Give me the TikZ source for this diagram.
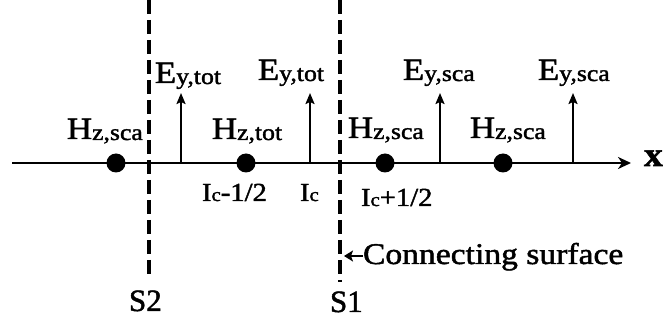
\documentclass[tikz,border=0pt]{standalone}
\usepackage{fontspec}
\usepackage{graphicx}
\setmainfont{Liberation Serif}[FakeBold=1.5]
\usetikzlibrary{arrows.meta}

% field label: large letter followed by a smaller component/type tag
\newcommand{\fieldlbl}[2]{\scalebox{1.12}[1]{\fontsize{31}{31}\selectfont #1\fontsize{23}{23}\selectfont\raisebox{-1pt}{#2}}}
% grid index label: I with a small c, then an offset
\newcommand{\idxlbl}[1]{\scalebox{1.1}[1]{\fontsize{26}{26}\selectfont I{\fontsize{19}{19}\selectfont c}#1}}

\tikzset{
  axisline/.style={line width=2.6pt, -{Stealth[length=13pt,width=12pt,inset=4pt]}},
  surface/.style={line width=3.8pt, dash pattern=on 14pt off 6pt},
  hdot/.style={circle, fill=black, inner sep=0pt, minimum size=19pt},
  efield/.style={line width=2pt, -{Stealth[length=11pt,width=9pt,inset=2pt]}},
  lbl/.style={anchor=base west, inner sep=0pt, outer sep=0pt},
  biglbl/.style={lbl, font=\fontsize{31}{31}\selectfont}
}

\begin{document}
\begin{tikzpicture}[x=1pt, y=-1pt]
  \useasboundingbox (0,0) rectangle (667,320);

  % x axis
  \coordinate (ax0) at (12,163);
  \coordinate (ax1) at (631,163);
  \draw[axisline] (ax0) -- (ax1);
  \node[lbl, font=\bfseries\fontsize{34}{34}\selectfont] (xl) at (644,166) {\scalebox{1.1}[1]{x}};

  % the two surfaces
  \coordinate (s2top) at (149,0);
  \coordinate (s2bot) at (149,278);
  \coordinate (s1top) at (340,0);
  \coordinate (s1bot) at (340,282);
  \draw[surface] (s2top) -- (s2bot);
  \draw[surface] (s1top) -- (s1bot);
  \node[biglbl] (s2) at (129,311) {S2};
  \node[biglbl] (s1) at (330,312) {S1};

  % magnetic field sample points
  \node[hdot] (h1) at (116,163) {};
  \node[hdot] (h2) at (246,163) {};
  \node[hdot] (h3) at (385,163) {};
  \node[hdot] (h4) at (503,163) {};

  % electric field sample points
  \coordinate (e1a) at (181,163); \coordinate (e1b) at (181,93);
  \coordinate (e2a) at (310,163); \coordinate (e2b) at (310,93);
  \coordinate (e3a) at (440,163); \coordinate (e3b) at (440,93);
  \coordinate (e4a) at (573,163); \coordinate (e4b) at (573,93);
  \draw[efield] (e1a) -- (e1b);
  \draw[efield] (e2a) -- (e2b);
  \draw[efield] (e3a) -- (e3b);
  \draw[efield] (e4a) -- (e4b);

  % field labels
  \node[lbl] (le1) at (155,83) {\fieldlbl{E}{y,tot}};
  \node[lbl] (le2) at (258,80) {\fieldlbl{E}{y,tot}};
  \node[lbl] (le3) at (403,80) {\fieldlbl{E}{y,sca}};
  \node[lbl] (le4) at (538,80) {\fieldlbl{E}{y,sca}};

  \node[lbl] (lh1) at (67,139)  {\fieldlbl{H}{z,sca}};
  \node[lbl] (lh2) at (212,139) {\fieldlbl{H}{z,tot}};
  \node[lbl] (lh3) at (348,138) {\fieldlbl{H}{z,sca}};
  \node[lbl] (lh4) at (470,138) {\fieldlbl{H}{z,sca}};

  % grid indices
  \node[lbl] (i1) at (202,201) {\idxlbl{-1/2}};
  \node[lbl] (i2) at (300,201) {\idxlbl{}};
  \node[lbl] (i3) at (361,206) {\idxlbl{+1/2}};

  % connecting surface annotation
  \node[lbl, font=\fontsize{30}{30}\selectfont] (cs) at (363,264) {\scalebox{1.12}[1]{Connecting surface}};
  \coordinate (cstip) at (344,256);
  \draw[line width=2.4pt, -{Stealth[length=9pt,width=11pt,inset=2pt]}] (cs.west |- cstip) -- (cstip);
\end{tikzpicture}
\end{document}
